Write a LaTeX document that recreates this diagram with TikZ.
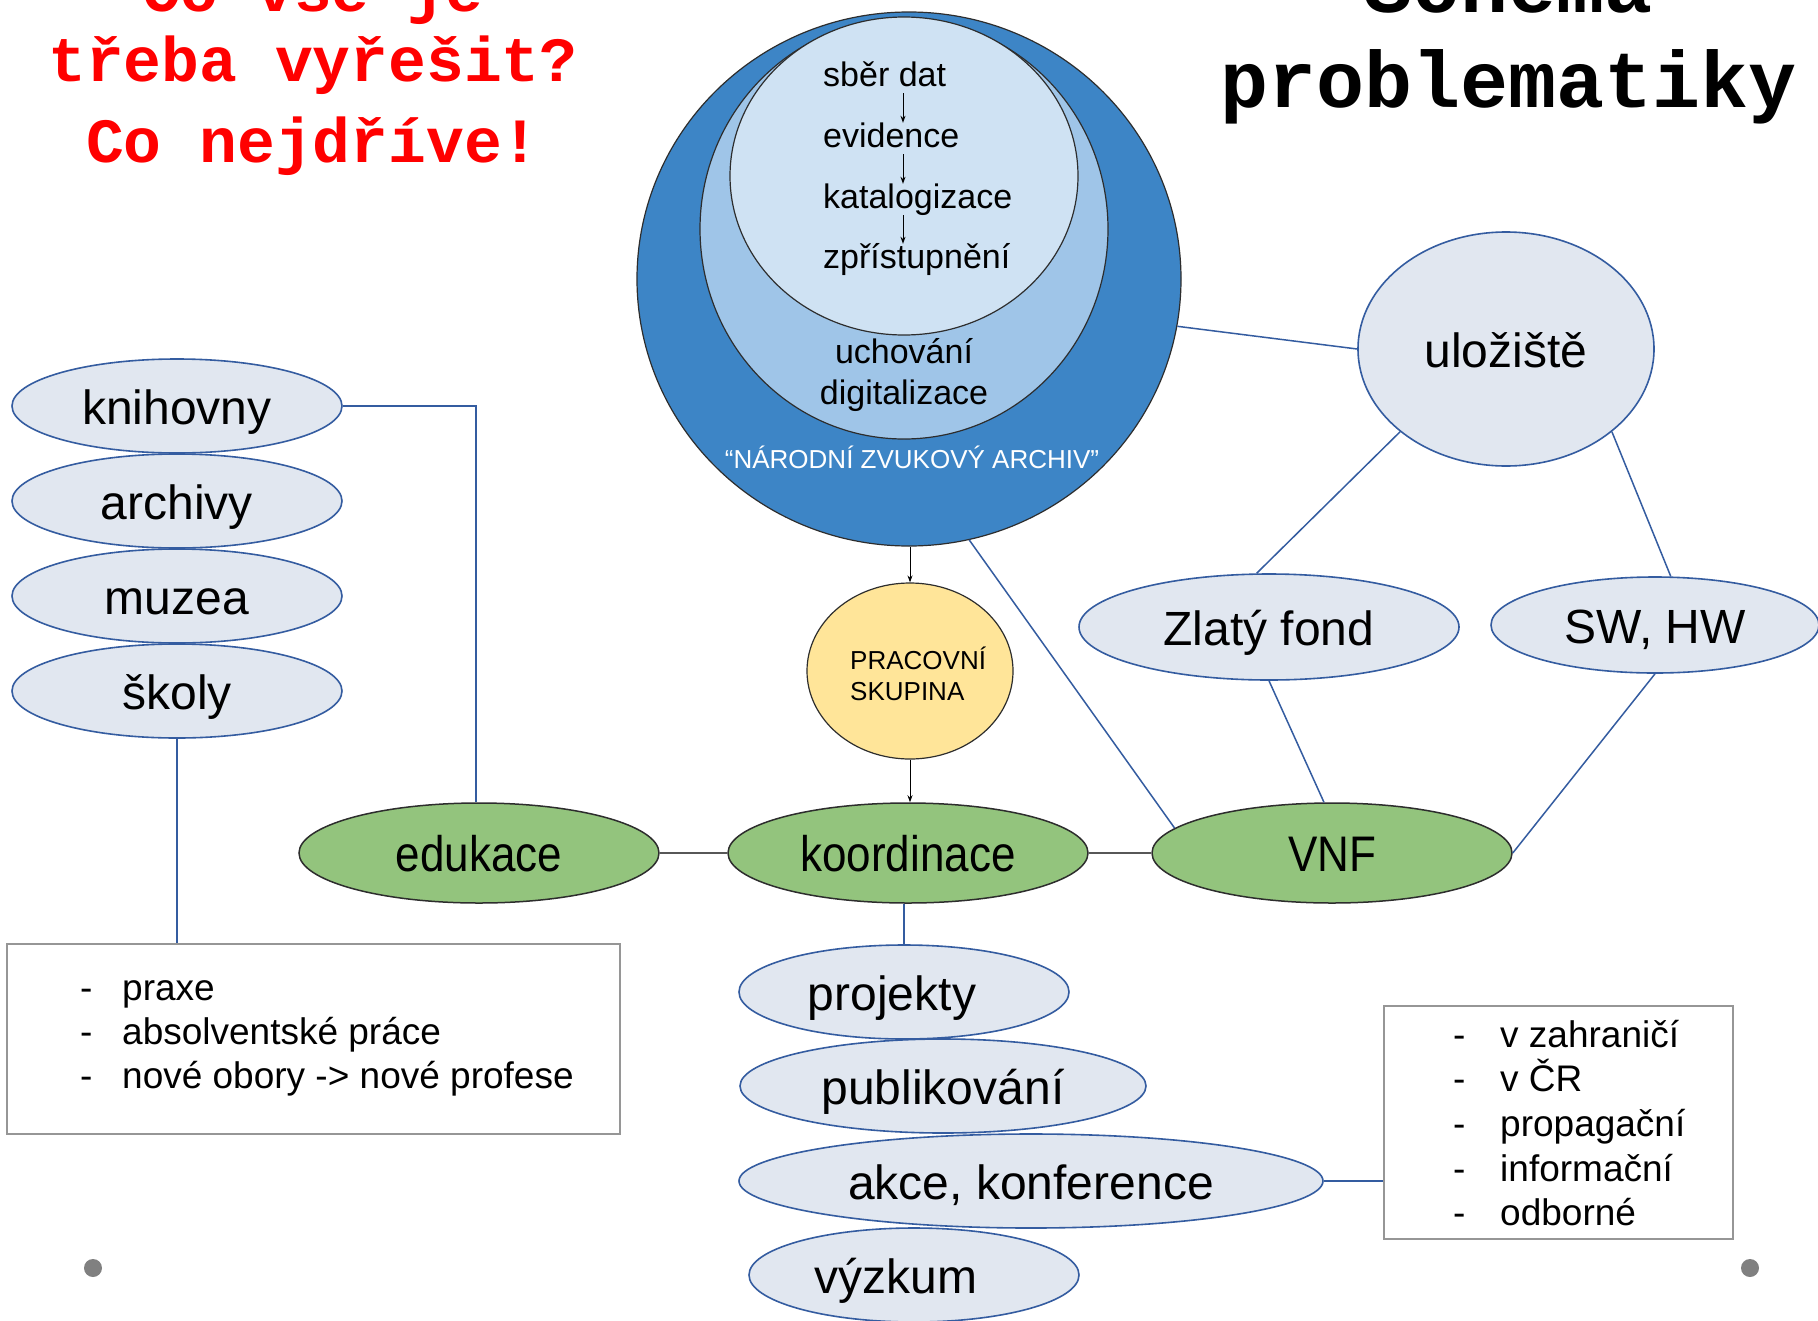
\documentclass[tikz,border=0pt]{standalone}
\usepackage{fontspec}
\setmainfont{Liberation Sans}
\newfontfamily\titlefont{Liberation Mono}
\newfontfamily\narrowfont{Liberation Sans}[FakeStretch=0.88]
\usetikzlibrary{shapes.geometric,arrows.meta}
\definecolor{lightfill}{RGB}{225,231,240}
\definecolor{blueline}{RGB}{52,92,160}
\definecolor{bigblue}{RGB}{61,133,198}
\definecolor{midblue}{RGB}{159,197,232}
\definecolor{innblue}{RGB}{207,226,243}
\definecolor{greenfill}{RGB}{147,196,125}
\definecolor{yellowfill}{RGB}{255,229,153}
\definecolor{boxgray}{RGB}{150,150,150}
\definecolor{dotgray}{RGB}{128,128,128}
\definecolor{titlered}{RGB}{255,0,0}
\definecolor{darkline}{RGB}{45,45,45}
\begin{document}
\begin{tikzpicture}[x=1pt,y=-1pt,
  pill/.style={ellipse, draw=blueline, line width=1.6pt, fill=lightfill, inner sep=0pt,
    text height=43pt, text depth=7pt, font=\fontsize{48}{56}\selectfont},
  greenell/.style={ellipse, draw=darkline, line width=1.5pt, fill=greenfill, inner sep=0pt,
    minimum width=360pt, minimum height=100pt,
    text height=45pt, text depth=8pt, font=\narrowfont\fontsize{50}{58}\selectfont},
  ring/.style={ellipse, draw=darkline, line width=1.2pt, inner sep=0pt},
  ctext/.style={anchor=base west, inner sep=0pt, text height=24pt, text depth=7pt,
    font=\fontsize{34}{40}\selectfont},
  small/.style={inner sep=0pt, font=\fontsize{26}{30}\selectfont},
  boxtext/.style={anchor=base west, inner sep=0pt, font=\fontsize{37}{44}\selectfont},
  listbox/.style={draw=boxgray, line width=1.5pt, inner sep=0pt, fill=white},
  conn/.style={draw=blueline, line width=1.5pt},
  grayconn/.style={draw=darkline!80, line width=1.5pt},
  arr/.style={-{Stealth[length=7pt,width=5pt]}, line width=1pt, draw=black},
  titleA/.style={anchor=base, inner sep=0pt, text=titlered,
    font=\titlefont\bfseries\fontsize{63}{70}\selectfont},
  titleB/.style={anchor=base, inner sep=0pt, text=black,
    font=\titlefont\bfseries\fontsize{80}{90}\selectfont},
  dot/.style={circle, fill=dotgray, minimum size=18pt, inner sep=0pt}
]
\useasboundingbox (0,0) rectangle (1818,1320);
\clip (0,0) rectangle (1818,1320);
\fill[white] (0,0) rectangle (1818,1320);

% titles
\node[titleA] (t1) at (313,11) {Co vše je};
\node[titleA] (t2) at (313,81) {třeba vyřešit?};
\node[titleA] (t3) at (313,162) {Co nejdříve!};
\node[titleB] (t4) at (1509,12) {Schéma};
\node[titleB] (t5) at (1509,107) {problematiky};

% nested circles
\node[ring, fill=bigblue, minimum width=544pt, minimum height=534pt] (big) at (909,279) {};
\node[ring, fill=midblue, minimum width=408pt, minimum height=420pt] (mid) at (904,229) {};
\node[ring, fill=innblue, minimum width=348pt, minimum height=318pt] (inn) at (904,176) {};
\node[ctext] (sber) at (823,86) {sběr dat};
\node[ctext] (evid) at (823,147) {evidence};
\node[ctext] (kat) at (823,208) {katalogizace};
\node[ctext] (zpr) at (823,268) {zpřístupnění};
\coordinate (ax) at (903,0);
\draw[arr] (sber.south -| ax) -- (evid.north -| ax);
\draw[arr] (evid.south -| ax) -- (kat.north -| ax);
\draw[arr] (kat.south -| ax) -- (zpr.north -| ax);
\node[anchor=base, inner sep=0pt, font=\fontsize{34}{40}\selectfont] (uch) at (904,363) {uchování};
\node[anchor=base, inner sep=0pt, font=\fontsize{34}{40}\selectfont] (dig) at (904,404) {digitalizace};
\node[small, anchor=base, text=white] (nza) at (912,468) {“NÁRODNÍ ZVUKOVÝ ARCHIV”};

% working group
\node[ring, fill=yellowfill, minimum width=206pt, minimum height=176pt] (pg) at (910,671) {};
\node[small, anchor=base west] (pg1) at (850,669) {PRACOVNÍ};
\node[small, anchor=base west] (pg2) at (850,700) {SKUPINA};

% left ellipses
\node[pill, minimum width=330pt, minimum height=94pt] (kn) at (177,406) {knihovny};
\node[pill, minimum width=330pt, minimum height=94pt] (ar) at (177,501) {archivy};
\node[pill, minimum width=330pt, minimum height=94pt] (mu) at (177,596) {muzea};
\node[pill, minimum width=330pt, minimum height=94pt] (sk) at (177,691) {školy};

% green row
\node[greenell] (edu) at (479,853) {edukace};
\node[greenell] (ko) at (908,853) {koordinace};
\node[greenell] (vnf) at (1332,853) {VNF};

% right ellipses
\node[pill, minimum width=296pt, minimum height=234pt] (ulo) at (1506,349) {uložiště};
\node[pill, minimum width=380pt, minimum height=106pt] (zf) at (1269,627) {Zlatý fond};
\node[pill, minimum width=328pt, minimum height=96pt] (sw) at (1655,625) {SW, HW};

% bottom ellipses
\node[pill, minimum width=330pt, minimum height=94pt] (proj) at (904,992) {\hspace*{-24pt}projekty};
\node[pill, minimum width=406pt, minimum height=94pt] (pub) at (943,1086) {publikování};
\node[pill, minimum width=584pt, minimum height=94pt] (akce) at (1031,1181) {akce, konference};
\node[pill, minimum width=330pt, minimum height=94pt] (vyz) at (914,1275) {\hspace*{-36pt}výzkum};

% boxes
\node[listbox, minimum width=613pt, minimum height=190pt] (lbox) at (313.5,1039) {};
\node[listbox, minimum width=349pt, minimum height=233pt] (rbox) at (1558.5,1122.5) {};
\foreach \yy/\tt in {1000/praxe, 1044/absolventské práce, 1088/nové obory -> nové profese}{
  \node[boxtext] (ld\yy) at (80,\yy) {-};
  \node[boxtext] (lt\yy) at (122,\yy) {\tt};
}
\foreach \yy/\tt in {1047/v zahraničí, 1091/v ČR, 1136/propagační, 1181/informační, 1225/odborné}{
  \node[boxtext] (rd\yy) at (1453,\yy) {-};
  \node[boxtext] (rt\yy) at (1500,\yy) {\tt};
}

% dots
\node[dot] (dot1) at (93,1268) {};
\node[dot] (dot2) at (1750,1268) {};

% connectors
\coordinate (kc) at (476,406);
\draw[conn] (kn.east) -- (kc) -- (kc |- edu.north);
\draw[conn] (sk.south) -- (sk.south |- lbox.north);
\draw[grayconn] (edu.east) -- (ko.west);
\draw[grayconn] (ko.east) -- (vnf.west);
\draw[arr] (pg.north |- big.south) -- (pg.north);
\draw[arr] (pg.south) -- (pg.south |- ko.north);
\draw[conn] (proj.north |- ko.south) -- (proj.north);
\draw[conn] (akce.east) -- (akce.east -| rbox.west);
\draw[conn] (big.-10.7) -- (ulo.west);
\draw[conn] (ulo.218) -- (zf.103.5);
\draw[conn] (ulo.-38.3) -- (sw.72.4);
\draw[conn] (zf.south) -- (vnf.99);
\draw[conn] (sw.south) -- (vnf.east);
\draw[conn] (big.-77.8) -- (vnf.171);
\end{tikzpicture}
\end{document}
